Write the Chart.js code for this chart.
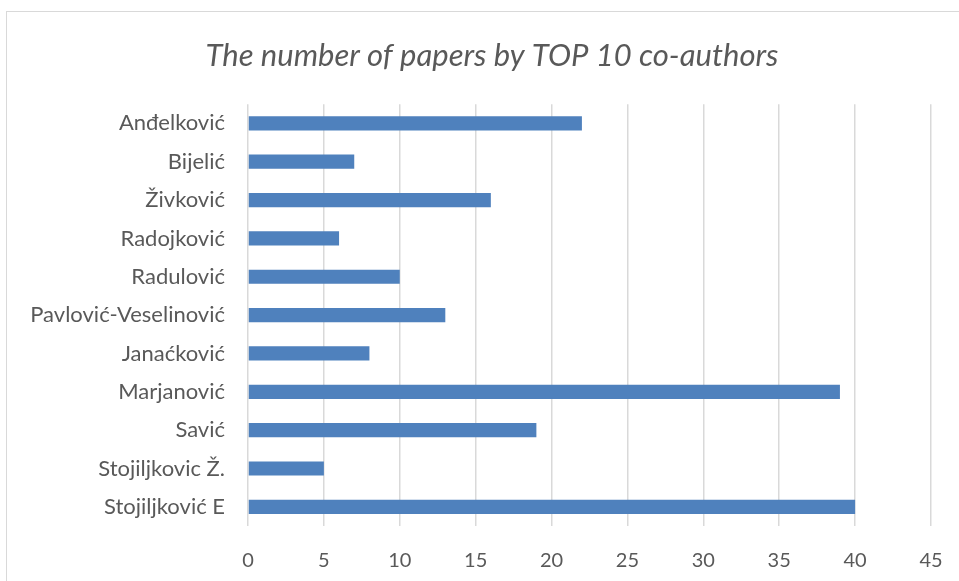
<!DOCTYPE html>
<html><head><meta charset="utf-8">
<script src="https://cdn.jsdelivr.net/npm/chart.js@4/dist/chart.umd.min.js"></script>
<style>html,body{margin:0;padding:0;background:#fff;overflow:hidden}#wrap{position:absolute;left:0;top:0;width:959px;height:581px}</style>
</head><body><div id="wrap"><canvas id="c" width="959" height="581"></canvas></div>
<script>
const categories = ["Anđelković","Bijelić","Živković","Radojković","Radulović","Pavlović-Veselinović","Janaćković","Marjanović","Savić","Stojiljkovic Ž.","Stojiljković E"];
const papers = [22,7,16,6,10,13,8,39,19,5,40];
const titleText = "The number of papers by TOP 10 co-authors";
const FONT = "Lato, 'Liberation Sans', sans-serif";
const framePlugin = {
  id:'frame',
  afterLayout(chart){
    const tb = chart.titleBlock;
    if (tb) { tb.left = 53; tb.right = 931; }
  },
  beforeDraw(chart){
    const ctx = chart.ctx; ctx.save();
    ctx.strokeStyle = '#d9d9d9'; ctx.lineWidth = 1;
    ctx.strokeRect(6.5, 11.5, 1000, 700);
    ctx.restore();
  }
};
new Chart(document.getElementById('c'), {
  type:'bar',
  data:{labels:categories, datasets:[{data:papers, backgroundColor:'#4f81bd', borderWidth:0, categoryPercentage:1, barPercentage:0.37}]},
  plugins:[framePlugin],
  options:{
    indexAxis:'y', responsive:false, animation:false,
    layout:{padding:{left:0,right:28,top:0,bottom:0}},
    plugins:{
      legend:{display:false}, tooltip:{enabled:false},
      title:{display:true, text:titleText, color:'#595959', font:{family:FONT, size:31, style:'italic', weight:'normal'}, padding:{top:37, bottom:30}}
    },
    scales:{
      x:{min:0, max:45, ticks:{stepSize:5, color:'#595959', font:{family:FONT, size:20}, padding:23},
         grid:{color:'#d9d9d9', lineWidth:1.5, drawTicks:false}, border:{display:false},
         afterFit(s){ s.height = 55; s.paddingRight = 0; s.paddingLeft = 0; }},
      y:{ticks:{color:'#595959', font:{family:FONT, size:22}, padding:23},
         grid:{display:false, drawTicks:false}, border:{display:false},
         afterFit(s){ s.width = 248; }}
    }
  }
});
</script></body></html>
